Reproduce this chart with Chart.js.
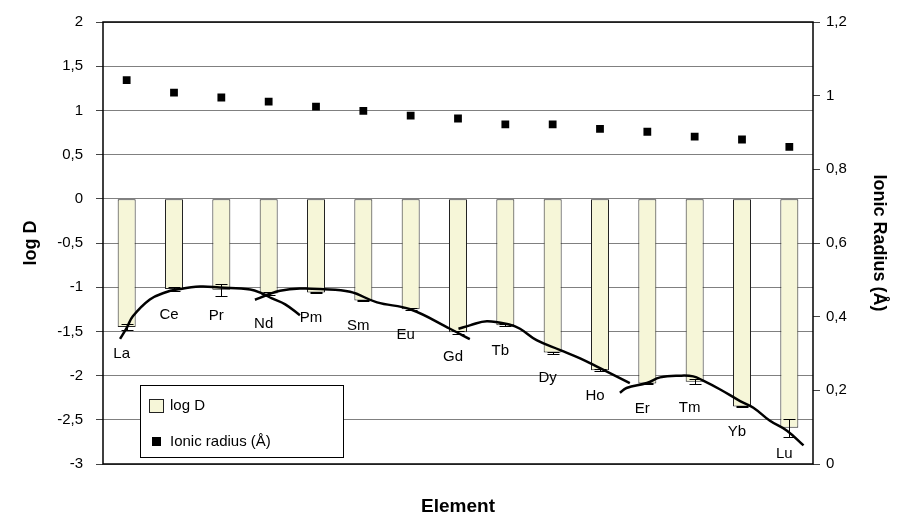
<!DOCTYPE html>
<html>
<head>
<meta charset="utf-8">
<script src="https://cdn.jsdelivr.net/npm/chart.js@4/dist/chart.umd.min.js"></script>
<style>
  html, body { margin: 0; padding: 0; background: #fff; }
  #wrap { width: 899px; height: 519px; }
</style>
</head>
<body>
<div id="wrap"><canvas id="chart"></canvas></div>
<script>
// elements
var elements = ["La", "Ce", "Pr", "Nd", "Pm", "Sm", "Eu", "Gd", "Tb", "Dy", "Ho", "Er", "Tm", "Yb", "Lu"];
// log D (bars) and error
var logD = [-1.45, -1.02, -1.03, -1.07, -1.06, -1.15, -1.25, -1.51, -1.43, -1.74, -1.94, -2.09, -2.07, -2.35, -2.59];
var logDErr = [0.03, 0.02, 0.07, 0.02, 0.01, 0.01, 0.01, 0.02, 0.01, 0.01, 0.01, 0.01, 0.03, 0.01, 0.1];
// ionic radius (Å)
var ionicRadius = [1.042, 1.008, 0.995, 0.984, 0.970, 0.959, 0.946, 0.938, 0.922, 0.922, 0.910, 0.902, 0.889, 0.881, 0.861];
// where the element name sits (log D units)
var labelLogD = [-1.75, -1.31, -1.32, -1.41, -1.35, -1.44, -1.54, -1.79, -1.72, -2.03, -2.23, -2.38, -2.36, -2.64, -2.88];

// lattice strain fits, x = element index
var fit1X = [-0.14, 0.01, 0.13, 0.49, 0.81, 1.06, 1.55, 1.97, 2.61, 2.86, 3.07, 3.35, 3.66];
var fit1Y = [-1.585, -1.451, -1.328, -1.138, -1.060, -1.027, -0.993, -1.004, -1.027, -1.071, -1.127, -1.194, -1.317];
var fit2X = [2.71, 2.99, 3.24, 3.66, 4.09, 4.72, 5.29, 5.99, 6.83, 7.25];
var fit2Y = [-1.142, -1.083, -1.041, -1.016, -1.021, -1.052, -1.172, -1.250, -1.470, -1.588];
var fit3X = [7.01, 7.25, 7.61, 8.10, 8.31, 8.66, 9.16, 9.58, 10.0, 10.63];
var fit3Y = [-1.470, -1.432, -1.384, -1.425, -1.470, -1.599, -1.711, -1.805, -1.916, -2.084];
var fit4X = [10.42, 10.56, 10.99, 11.27, 11.69, 11.97, 12.18, 12.54, 12.96, 13.24, 13.59, 13.95, 14.30];
var fit4Y = [-2.195, -2.140, -2.084, -2.020, -2.001, -2.009, -2.057, -2.157, -2.288, -2.363, -2.511, -2.623, -2.790];

Chart.defaults.font.family = '"Liberation Sans", Arial, sans-serif';
Chart.defaults.color = '#000';

function pts(xs, ys) {
  return xs.map(function(x, i) { return { x: x, y: ys[i] }; });
}
function comma(v) {
  return (Math.round(v * 10) / 10).toString().replace('.', ',');
}
function fitLine(xs, ys) {
  return {
    type: 'line', label: 'fit', data: pts(xs, ys), xAxisID: 'xc', yAxisID: 'y',
    borderColor: '#000', borderWidth: 2.5, pointRadius: 0, tension: 0.4, order: 0
  };
}

// error bars, element names, frame, legend
var extras = {
  id: 'extras',
  afterDatasetsDraw: function(chart) {
    var ctx = chart.ctx, x = chart.scales.x, y = chart.scales.y, a = chart.chartArea;
    ctx.save();
    // error bars
    ctx.strokeStyle = '#000';
    ctx.lineWidth = 1;
    logD.forEach(function(v, i) {
      if (!logDErr[i]) return;
      var cx = Math.round(x.getPixelForValue(i)) + 0.5;
      var y1 = Math.round(y.getPixelForValue(v + logDErr[i])) + 0.5;
      var y2 = Math.round(y.getPixelForValue(v - logDErr[i])) + 0.5;
      ctx.beginPath();
      ctx.moveTo(cx, y1); ctx.lineTo(cx, y2);
      ctx.moveTo(cx - 6, y1); ctx.lineTo(cx + 6, y1);
      ctx.moveTo(cx - 6, y2); ctx.lineTo(cx + 6, y2);
      ctx.stroke();
    });
    // element names
    ctx.fillStyle = '#000';
    ctx.font = '15px "Liberation Sans", Arial, sans-serif';
    ctx.textAlign = 'center';
    ctx.textBaseline = 'middle';
    elements.forEach(function(el, i) {
      ctx.fillText(el, x.getPixelForValue(i) - 5, y.getPixelForValue(labelLogD[i]));
    });
    // plot frame
    ctx.strokeStyle = '#000';
    ctx.lineWidth = 1.5;
    ctx.strokeRect(a.left, a.top, a.right - a.left, a.bottom - a.top);
    // legend box
    var lx = a.left + 37, ly = a.bottom - 79, lw = 203, lh = 72;
    ctx.fillStyle = '#fff';
    ctx.fillRect(lx, ly, lw, lh);
    ctx.lineWidth = 1;
    ctx.strokeRect(lx + 0.5, ly + 0.5, lw, lh);
    ctx.fillStyle = '#F6F6D8';
    ctx.fillRect(lx + 9, ly + 14, 14, 13);
    ctx.strokeStyle = '#222';
    ctx.strokeRect(lx + 9.5, ly + 14.5, 14, 13);
    ctx.fillStyle = '#000';
    ctx.fillRect(lx + 12, ly + 52, 9, 9);
    ctx.textAlign = 'left';
    var ds = chart.data.datasets;
    ctx.fillText(ds[0].label, lx + 30, ly + 21);
    ctx.fillText(ds[1].label, lx + 30, ly + 57);
    ctx.restore();
  }
};

new Chart(document.getElementById('chart').getContext('2d'), {
  type: 'bar',
  data: {
    labels: elements,
    datasets: [
      {
        type: 'bar', label: 'log D', data: logD, yAxisID: 'y', xAxisID: 'x',
        backgroundColor: '#F6F6D8', borderColor: '#222', borderWidth: 1, borderSkipped: false,
        grouped: false, barPercentage: 0.38, categoryPercentage: 1, order: 3
      },
      {
        type: 'line', label: 'Ionic radius (Å)', data: ionicRadius, yAxisID: 'y2', xAxisID: 'x',
        showLine: false, pointStyle: 'rect', pointRadius: 5.5, pointHoverRadius: 5.5,
        backgroundColor: '#000', borderColor: '#000', borderWidth: 0, order: 1
      },
      fitLine(fit1X, fit1Y),
      fitLine(fit2X, fit2Y),
      fitLine(fit3X, fit3Y),
      fitLine(fit4X, fit4Y)
    ]
  },
  options: {
    responsive: true,
    maintainAspectRatio: false,
    animation: false,
    layout: { padding: { top: 16, left: 0, right: 0, bottom: 0 } },
    plugins: { legend: { display: false }, tooltip: { enabled: false } },
    scales: {
      x: {
        type: 'category', position: 'bottom', offset: true,
        ticks: { display: false },
        grid: { display: false },
        border: { display: false },
        title: { display: true, text: 'Element', font: { size: 19, weight: 'bold' }, padding: { top: 0, bottom: 1 } },
        afterFit: function(s) { s.height = 55; }
      },
      xc: {
        type: 'linear', position: 'bottom', min: -0.5, max: 14.5, offset: false,
        grace: 0, bounds: 'ticks', display: false,
        grid: { offset: false }
      },
      y: {
        position: 'left', min: -3, max: 2,
        ticks: { stepSize: 0.5, font: { size: 15 }, padding: 13, callback: comma },
        grid: { color: '#808080', lineWidth: 1, tickLength: 7, tickColor: '#444' },
        border: { display: false },
        title: { display: true, text: 'log D', font: { size: 18, weight: 'bold' }, padding: { top: 20, bottom: 0 } },
        afterFit: function(s) { s.width = 103; }
      },
      y2: {
        position: 'right', min: 0, max: 1.2,
        ticks: { stepSize: 0.2, font: { size: 15 }, padding: 6, callback: comma },
        grid: { drawOnChartArea: false, tickLength: 7, tickColor: '#444' },
        border: { display: false },
        title: { display: true, text: 'Ionic Radius (Å)', font: { size: 18, weight: 'bold' }, padding: { top: 9, bottom: 0 } },
        afterFit: function(s) { s.width = 86; }
      }
    }
  },
  plugins: [extras]
});
</script>
</body>
</html>
